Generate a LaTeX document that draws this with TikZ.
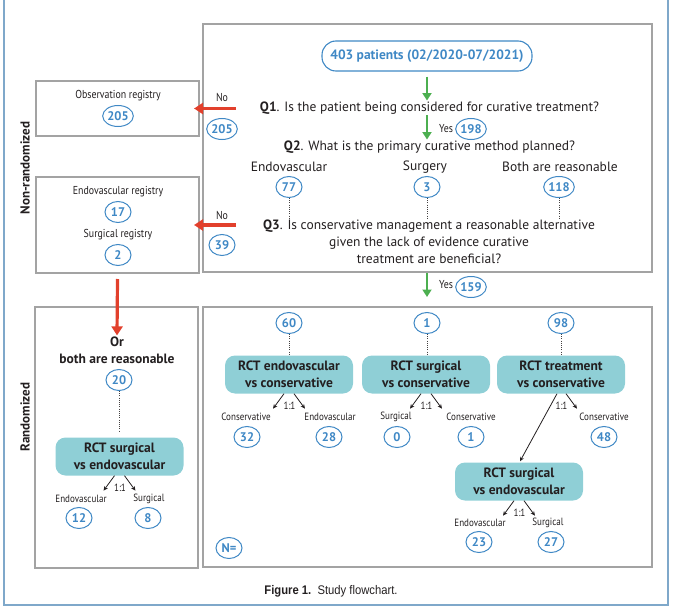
\documentclass[tikz,border=0pt]{standalone}
\usepackage{fontspec}
\setmainfont{PT Sans}
\newfontfamily\condfont[FakeStretch=0.86]{PT Sans}
\newfontfamily\capfont[FakeStretch=0.9]{Liberation Sans}
\usetikzlibrary{arrows.meta,calc,shapes.geometric}
\definecolor{framecol}{HTML}{7FA8CA}
\definecolor{boxgray}{HTML}{A3A3A3}
\definecolor{numblue}{HTML}{3F88C5}
\definecolor{tealfill}{HTML}{8FCFD6}
\definecolor{redarr}{HTML}{E2402C}
\definecolor{greenarr}{HTML}{4CAF50}
\definecolor{ink}{HTML}{231F20}
\newcommand\twoarrows[2]{%
  \coordinate (#1-l) at ($(#1.south)+(-16,15)$);
  \coordinate (#1-r) at ($(#1.south)+(16,15)$);
  \ifnum#2=1 \draw[barrow] ($(#1.south)+(-5,0)$) -- (#1-l);\fi
  \draw[barrow] ($(#1.south)+(5,0)$) -- (#1-r);
  \node[ratio] (#1-ratio) at ($(#1.south)+(0.5,12.5)$) {1:1};}
\begin{document}
\begin{tikzpicture}[x=1pt,y=-1pt,
  every node/.style={text=ink},
  numcirc/.style={ellipse,draw=numblue,line width=1pt,text=numblue,
    font=\fontsize{12.5}{13}\selectfont\bfseries,minimum width=26pt,minimum height=21pt,inner sep=0.2pt},
  graybox/.style={draw=boxgray,line width=1.1pt,inner sep=0pt,outer sep=0pt},
  pill/.style={draw=numblue,line width=1.1pt,rounded corners=14pt,minimum width=210pt,
    minimum height=30pt,text=numblue,font=\fontsize{13.5}{15}\selectfont\bfseries},
  qtext/.style={font=\fontsize{13.5}{17}\selectfont,inner sep=1pt,align=center},
  medtxt/.style={font=\condfont\fontsize{11.5}{13}\selectfont,inner sep=1pt},
  smalltxt/.style={font=\condfont\fontsize{10.5}{12}\selectfont,inner sep=1pt},
  ratio/.style={font=\condfont\fontsize{10.5}{12}\selectfont,inner sep=0.5pt},
  boldtxt/.style={font=\fontsize{13.5}{17}\selectfont\bfseries,align=center,inner sep=1pt},
  sidetxt/.style={font=\fontsize{13}{15}\selectfont\bfseries,rotate=90,inner sep=1pt},
  rctbox/.style={fill=tealfill,rounded corners=10pt,minimum width=128pt,minimum height=38pt,
    align=center,font=\fontsize{13.5}{16.5}\selectfont\bfseries,inner sep=1pt},
  garrow/.style={draw=greenarr,line width=2.8pt,-{Triangle[width=9pt,length=7.5pt]}},
  rarrow/.style={draw=redarr,line width=3.2pt,-{Triangle[width=11pt,length=9pt]}},
  barrow/.style={draw=ink,line width=0.8pt,-{Stealth[length=4.5pt,width=4pt]}},
  dotline/.style={draw=ink!85,line width=1pt,dash pattern=on 1pt off 1.2pt}
]
\useasboundingbox (0,0) rectangle (680,607);
\draw[framecol,line width=2pt] (4,0) -- (4,605) -- (668,605) -- (668,0);

% boxes
\node[graybox,minimum width=449pt,minimum height=248pt] (topbox) at (427.5,148) {};
\node[graybox,minimum width=163pt,minimum height=55pt] (obsbox) at (117.5,108.5) {};
\node[graybox,minimum width=163pt,minimum height=96pt] (regbox) at (117.5,225) {};
\node[graybox,minimum width=163pt,minimum height=261pt] (randL) at (116.5,437.5) {};
\node[graybox,minimum width=449pt,minimum height=260pt] (randR) at (427.5,437) {};

% side labels
\node[sidetxt] (nonrand) at (25,168) {Non-randomized};
\node[sidetxt] (rand) at (25,417) {Randomized};

% top flow
\node[pill] (start) at (427,56) {403 patients (02/2020-07/2021)};
\node[qtext] (q1) at (429.5,108) {\textbf{Q1}. Is the patient being considered for curative treatment?};
\draw[garrow] ([yshift=-5pt]start.south) -- (start.south |- q1.north);
\node[qtext] (q2) at (429.5,147) {\textbf{Q2}. What is the primary curative method planned?};
\coordinate (q1s) at (start.south |- q1.south);
\draw[garrow] (q1s) -- (start.south |- q2.north);
\node[medtxt] (yes1) at (446,129) {Yes};
\node[numcirc] (n198) at (471,129) {198};

\node[qtext] (lendo) at (289,167) {Endovascular};
\node[qtext] (lsurg) at (425,167) {Surgery};
\node[qtext] (lboth) at (560,167) {Both are reasonable};
\node[numcirc] (n77) at (289,187) {77};
\node[numcirc] (n3) at (427,187) {3};
\node[numcirc] (n118) at (559,187) {118};

\node[qtext] (q3) at (429,242) {\textbf{Q3}. Is conservative management a reasonable alternative\\given the lack of evidence curative\\treatment are beneficial?};
\draw[dotline] (n77.south) -- (n77 |- q3.north);
\draw[dotline] (n3.south) -- (n3 |- q3.north);
\draw[dotline] (n118.south) -- (n118 |- q3.north);

\coordinate (q3s) at (427,273);
\coordinate (randtop) at (427,297);
\draw[garrow] (q3s) -- (randtop);
\node[medtxt] (yes2) at (446,285) {Yes};
\node[numcirc] (n159) at (471,287) {159};

% left registries
\node[medtxt] (no1) at (222,97) {No};
\node[numcirc] (n205b) at (222,129) {205};
\coordinate (r1) at (236,108.5);
\draw[rarrow,shorten >=-5pt] (r1) -- (obsbox.east);
\node[medtxt] (obstxt) at (118,96) {Observation registry};
\node[numcirc] (n205a) at (118,116) {205};

\node[medtxt] (no2) at (222,215) {No};
\node[numcirc] (n39) at (222,245) {39};
\coordinate (r2) at (236,225);
\draw[rarrow,shorten >=-5pt] (r2) -- (regbox.east);
\node[medtxt] (endotxt) at (118,192) {Endovascular registry};
\node[numcirc] (n17) at (118,212) {17};
\node[medtxt] (surgtxt) at (118,235) {Surgical registry};
\node[numcirc] (n2) at (118,255) {2};

% randomized left
\node[boldtxt] (ortxt) at (117,350) {Or\\both are reasonable};
\draw[rarrow] ([yshift=-6pt]regbox.south) -- (ortxt.north);
\node[numcirc] (n20) at (119,380) {20};
\node[rctbox] (rctL) at (119.5,456.5) {RCT surgical\\vs endovascular};
\draw[dotline,shorten >=5pt] (n20.south) -- (n20 |- rctL.north);
\twoarrows{rctL}{1}
\node[smalltxt] (eL) at (81,499) {Endovascular};
\node[smalltxt] (sL) at (149,499) {Surgical};
\node[numcirc] (n12) at (79,518) {12};
\node[numcirc] (n8) at (148,518) {8};

% randomized right
\node[numcirc] (n60) at (289,323) {60};
\node[numcirc] (n1a) at (427,323) {1};
\node[numcirc] (n98) at (561,323) {98};
\node[rctbox] (rct1) at (289,374.5) {RCT endovascular\\vs conservative};
\node[rctbox] (rct2) at (426,374.5) {RCT surgical\\vs conservative};
\node[rctbox] (rct3) at (561,374.5) {RCT treatment\\vs conservative};
\draw[dotline] (n60.south) -- (rct1.north);
\draw[dotline] (n1a.south) -- (n1a |- rct2.north);
\draw[dotline] (n98.south) -- (rct3.north);
\twoarrows{rct1}{1}
\twoarrows{rct2}{1}
\twoarrows{rct3}{0}

\node[smalltxt] (c1) at (246,417) {Conservative};
\node[smalltxt] (e1) at (330,417) {Endovascular};
\node[numcirc] (n32) at (247,437) {32};
\node[numcirc] (n28) at (329,437) {28};
\node[smalltxt] (s2) at (396,417) {Surgical};
\node[smalltxt] (c2) at (471,417) {Conservative};
\node[numcirc] (n0) at (397,437) {0};
\node[numcirc] (n1b) at (471,437) {1};
\node[smalltxt] (c3) at (604,417) {Conservative};
\node[numcirc] (n48) at (604,437) {48};

\node[rctbox] (rct4) at (519,481.5) {RCT surgical\\vs endovascular};
\draw[barrow] ($(rct3.south)+(-4,0)$) -- ($(rct4.north)+(1,-1)$);
\twoarrows{rct4}{1}
\node[smalltxt] (e4) at (480,523) {Endovascular};
\node[smalltxt] (s4) at (548,523) {Surgical};
\node[numcirc] (n23) at (479,542) {23};
\node[numcirc] (n27) at (551,542) {27};

\node[numcirc] (neq) at (229,548) {N=};

\node[font=\capfont\fontsize{12.5}{14}\selectfont,inner sep=1pt] (cap) at (331,591) {\textbf{Figure 1.}\ \ Study flowchart.};
\end{tikzpicture}
\end{document}
